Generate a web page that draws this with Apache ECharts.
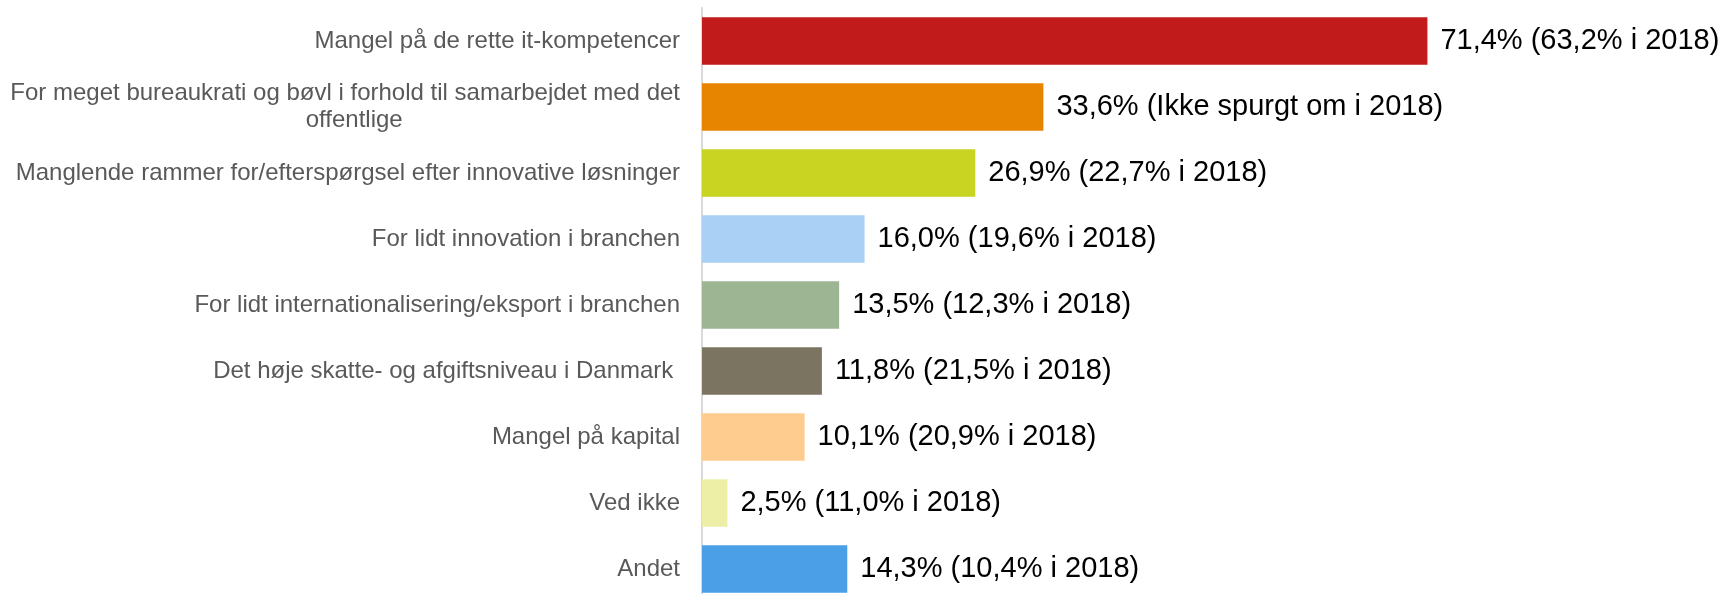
<!DOCTYPE html>
<html lang="da">
<head>
<meta charset="UTF-8">
<title>Barrierer</title>
<style>
  html, body { margin: 0; padding: 0; background: #fff; overflow: hidden; }
  /* taller than the window: the last bar runs off the bottom edge as in the original */
  #main { width: 1726px; height: 602px; }
</style>
</head>
<body>
<div id="main"></div>
<script src="https://cdn.jsdelivr.net/npm/echarts@6/dist/echarts.min.js"></script>
<script>
// data
var categories = [
    'Mangel på de rette it-kompetencer',
    'For meget bureaukrati og bøvl i forhold til samarbejdet med det\noffentlige',
    'Manglende rammer for/efterspørgsel efter innovative løsninger',
    'For lidt innovation i branchen',
    'For lidt internationalisering/eksport i branchen',
    'Det høje skatte- og afgiftsniveau i Danmark ',
    'Mangel på kapital',
    'Ved ikke',
    'Andet'
];
var valuesNow = [71.4, 33.6, 26.9, 16.0, 13.5, 11.8, 10.1, 2.5, 14.3];
var values2018 = [63.2, null, 22.7, 19.6, 12.3, 21.5, 20.9, 11.0, 10.4];
var barColors = ['#C11B1B', '#E88500', '#C9D322', '#AAD1F5', '#9DB593', '#7B7460', '#FFCC90', '#EDEFA7', '#4B9FE6'];

function pct(v) {
    return v.toFixed(1).replace('.', ',') + '%';
}

var myChart = echarts.init(document.getElementById('main'));

var option = {
    animation: false,
    grid: {
        left: 702,
        right: 8,
        top: 8,
        bottom: 0,
        containLabel: false
    },
    xAxis: {
        type: 'value',
        min: 0,
        max: 100,
        show: false
    },
    yAxis: {
        type: 'category',
        data: categories,
        inverse: true,
        offset: 1,
        axisTick: { show: false },
        axisLine: {
            show: true,
            lineStyle: { color: '#D9D9D9', width: 2 }
        },
        axisLabel: {
            margin: 21,
            fontFamily: 'Liberation Sans',
            fontSize: 24,
            color: '#595959',
            formatter: function (val) {
                if (val.indexOf('\n') < 0) return val;
                // multi-line label: second line centred under the first
                var lines = val.split('\n');
                return '{c|' + lines[0] + '}\n{c2|' + lines[1] + '}';
            },
            rich: {
                c: {
                    fontFamily: 'Liberation Sans',
                    fontSize: 24,
                    color: '#595959',
                    align: 'center',
                    lineHeight: 27
                },
                c2: {
                    fontFamily: 'Liberation Sans',
                    fontSize: 24,
                    color: '#595959',
                    align: 'center',
                    lineHeight: 27,
                    padding: [0, 0, 0, 18]
                }
            }
        }
    },
    series: [{
        type: 'bar',
        barCategoryGap: '28%',
        data: valuesNow.map(function (v, i) {
            return { value: v, itemStyle: { color: barColors[i] } };
        }),
        label: {
            show: true,
            position: 'right',
            distance: 13,
            fontFamily: 'Liberation Sans',
            fontSize: 29,
            color: '#000',
            formatter: function (p) {
                var old = values2018[p.dataIndex];
                return pct(p.value) + (old === null ? ' (Ikke spurgt om i 2018)' : ' (' + pct(old) + ' i 2018)');
            }
        }
    }]
};

myChart.setOption(option);
</script>
</body>
</html>
